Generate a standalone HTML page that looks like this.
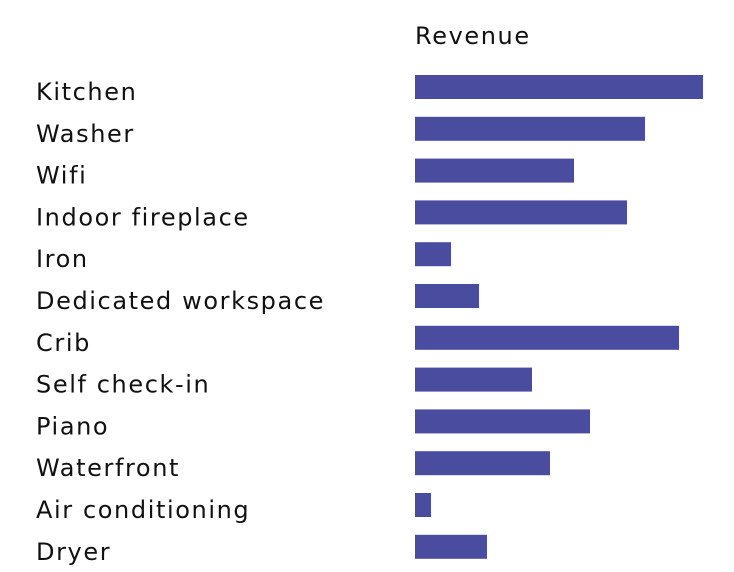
<!DOCTYPE html>
<html><head><meta charset="utf-8"><style>
html,body{margin:0;padding:0;background:#fff;width:734px;height:572px;overflow:hidden}
svg text{font-family:"DejaVu Sans","Liberation Sans",sans-serif;fill:#111;letter-spacing:1.6px}
</style></head><body>
<svg id="chart" width="734" height="572">
<text x="415" y="44" font-size="24">Revenue</text>
<g id="rows"></g>
</svg>
<script>
const categories=["Kitchen","Washer","Wifi","Indoor fireplace","Iron","Dedicated workspace","Crib","Self check-in","Piano","Waterfront","Air conditioning","Dryer"];
const revenue=[288,230,159,212,36,64,264,117,175,135,16,72];
const maxVal=288;
const x0=415, plotW=288, y0=75, step=41.8, barH=24;
function xScale(v){return v/maxVal*plotW;}
function yScale(i){return y0+i*step;}
const g=document.getElementById('rows');
const ns="http://www.w3.org/2000/svg";
categories.forEach((c,i)=>{
  const t=document.createElementNS(ns,'text');
  
  
  t.setAttribute('x',36);t.setAttribute('y',yScale(i)+25);
  t.setAttribute('font-size','24');t.textContent=c;g.appendChild(t);
  const r=document.createElementNS(ns,'rect');
  
  
  r.setAttribute('x',x0);r.setAttribute('y',yScale(i));
  r.setAttribute('width',xScale(revenue[i]));r.setAttribute('height',barH);
  r.setAttribute('fill','#4a4ca0');g.appendChild(r);
});
</script>
</body></html>
